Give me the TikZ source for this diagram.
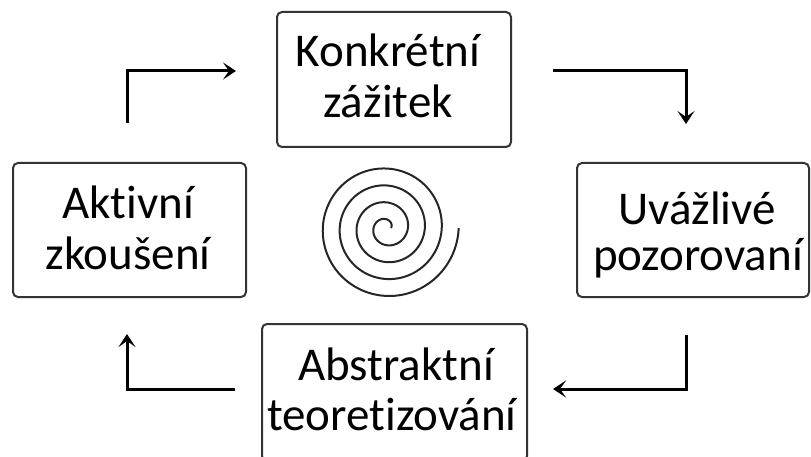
\documentclass[tikz,border=0pt]{standalone}
\usepackage{fontspec}
\setmainfont{Carlito}[Ligatures=NoCommon]
\usetikzlibrary{arrows.meta}
\begin{document}
\begin{tikzpicture}[x=1pt,y=1pt,
  box/.style={draw=black!80, line width=2pt, rounded corners=5pt, inner sep=0pt, outer sep=0pt},
  txt/.style={anchor=base, inner sep=0pt, font=\fontsize{47}{51}\selectfont, text=black},
  flow/.style={line width=3pt, black, -{Stealth[length=13pt,width=17pt,inset=6pt]}},
  spiral/.style={line width=2pt, black!85}]
\useasboundingbox (0,0) rectangle (811,456);
% boxes
\node[box, minimum width=234, minimum height=135] (top) at (394,376.5) {};
\node[box, minimum width=233, minimum height=134] (left) at (129.5,226) {};
\node[box, minimum width=232, minimum height=134] (right) at (693,226) {};
\node[box, minimum width=265, minimum height=137] (bottom) at (394.5,63.5) {};
% texts
\node[txt] (t1) at (388,389) {Konkrétní};
\node[txt] (t2) at (388,338) {zážitek};
\node[txt] (l1) at (128,238) {Aktivní};
\node[txt] (l2) at (128,187) {zkoušení};
\node[txt] (r1) at (697,232) {Uvážlivé};
\node[txt] (r2) at (698,186) {pozorovaní};
\node[txt] (b1) at (396,76) {Abstraktní};
\node[txt] (b2) at (392,26) {teoretizování};
% arrow coordinates
\coordinate (a1s) at (127,333); \coordinate (a1c) at (127,385); \coordinate (a1e) at (236,385);
\coordinate (a2s) at (553,385); \coordinate (a2c) at (686,385); \coordinate (a2e) at (686,332);
\coordinate (a3s) at (686,121); \coordinate (a3c) at (686,67);  \coordinate (a3e) at (553,67);
\coordinate (a4s) at (235,67);  \coordinate (a4c) at (127,67);  \coordinate (a4e) at (127,122);
\draw[flow] (a1s) -- (a1c) -- (a1e);
\draw[flow] (a2s) -- (a2c) -- (a2e);
\draw[flow] (a3s) -- (a3c) -- (a3e);
\draw[flow] (a4s) -- (a4c) -- (a4e);
% spiral
\draw[spiral] plot[domain=0:1440, samples=400, smooth]
  ({386.5+(4.5+0.047*\x)*cos(\x)}, {228+(4.5+0.047*\x)*sin(\x)});
\end{tikzpicture}
\end{document}
